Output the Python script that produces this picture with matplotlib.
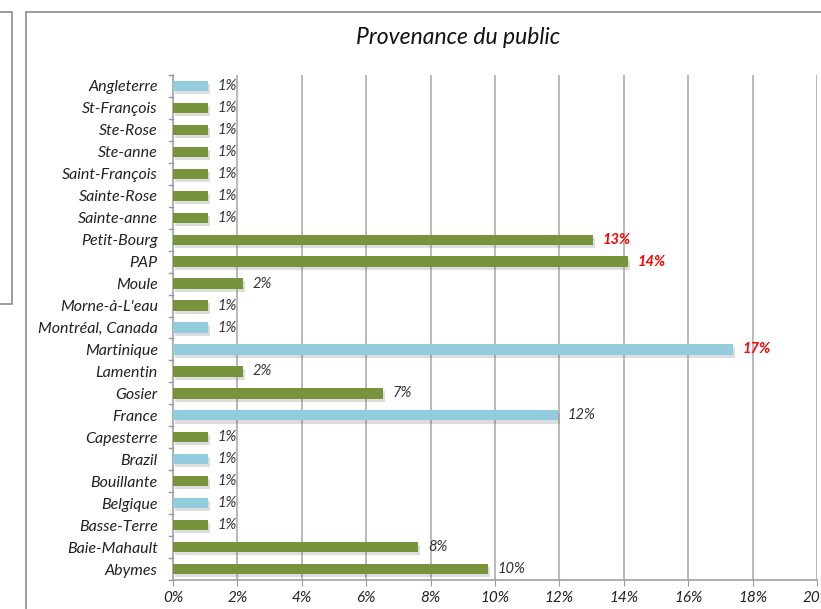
import matplotlib
matplotlib.use("Agg")
import matplotlib.pyplot as plt
import matplotlib.patheffects as pe
from matplotlib.patches import Rectangle

categories = ["Angleterre", "St-François", "Ste-Rose", "Ste-anne", "Saint-François",
              "Sainte-Rose", "Sainte-anne", "Petit-Bourg", "PAP", "Moule",
              "Morne-à-L'eau", "Montréal, Canada", "Martinique", "Lamentin", "Gosier",
              "France", "Capesterre", "Brazil", "Bouillante", "Belgique",
              "Basse-Terre", "Baie-Mahault", "Abymes"]
values = [1.09, 1.09, 1.09, 1.09, 1.09,
          1.09, 1.09, 13.04, 14.13, 2.17,
          1.09, 1.09, 17.39, 2.17, 6.52,
          11.96, 1.09, 1.09, 1.09, 1.09,
          1.09, 7.61, 9.78]
foreign = ["Angleterre", "Montréal, Canada", "Martinique", "France", "Brazil", "Belgique"]
highlight = ["Petit-Bourg", "PAP", "Martinique"]
xticks = [0, 2, 4, 6, 8, 10, 12, 14, 16, 18, 20]
title = "Provenance du public"

GREEN = "#77933C"
BLUE = "#93CDDD"
FONT = "Lato"

W, H = 821, 609
fig = plt.figure(figsize=(W / 100, H / 100), dpi=100)

# chart frame and left panel fragment
fig.patches.append(Rectangle((26 / W, -0.1), 1.2, 1 - 12 / H + 0.1, transform=fig.transFigure,
                             fill=False, edgecolor="#8c8c8c", linewidth=1.2))
fig.patches.append(Rectangle((-0.05, 1 - 304 / H), 0.05 + 12 / W, (304 - 12) / H,
                             transform=fig.transFigure, fill=False, edgecolor="#8c8c8c",
                             linewidth=1.2))

ax = fig.add_axes([173 / W, 1 - 580 / H, (817 - 173) / W, (580 - 75) / H])
n = len(categories)
ypos = list(range(n))[::-1]
colors = [BLUE if c in foreign else GREEN for c in categories]
bars = ax.barh(ypos, values, height=0.47, color=colors, zorder=3)
for b in bars:
    b.set_path_effects([pe.SimplePatchShadow(offset=(1.2, -2.2), shadow_rgbFace="#666666", alpha=0.22),
                        pe.Normal()])

for c, v, y in zip(categories, values, ypos):
    red = c in highlight
    ax.annotate(f"{round(v):d}%", (v, y), xytext=(7, 0), textcoords="offset points",
                va="center", ha="left", fontsize=10.5,
                fontstyle="italic", fontweight="bold" if red else "normal",
                color="#ff0000" if red else "#333333", family=FONT, zorder=5)

ax.set_xlim(0, 20)
ax.set_ylim(-0.5, n - 0.5)
ax.set_xticks(xticks)
ax.set_xticklabels([f"{t}%" for t in xticks], fontsize=11, fontstyle="italic",
                   family=FONT, color="#222222")
ax.set_yticks(ypos)
ax.set_yticklabels(categories, fontsize=11.5, fontstyle="italic", family=FONT,
                   color="#222222")
ax.tick_params(axis="y", length=0, pad=11)
ax.tick_params(axis="x", length=4, color="#999999", pad=4, direction="out")
# category boundary ticks on y axis
for k in range(n + 1):
    ax.plot([-0.12, 0], [k - 0.5, k - 0.5], color="#999999", lw=1, clip_on=False, zorder=4)

for t in xticks[1:]:
    ax.axvline(t, color="#a6a6a6", lw=1.1, zorder=1)

for s in ["top", "right"]:
    ax.spines[s].set_visible(False)
ax.spines["left"].set_color("#999999")
ax.spines["bottom"].set_color("#999999")
ax.spines["left"].set_linewidth(1.1)
ax.spines["bottom"].set_linewidth(1.1)

fig.text(458 / W, 1 - 37 / H, title, ha="center", va="center", fontsize=16.5,
         fontstyle="italic", family=FONT, color="#111111")

fig.savefig("out.png", dpi=100)
